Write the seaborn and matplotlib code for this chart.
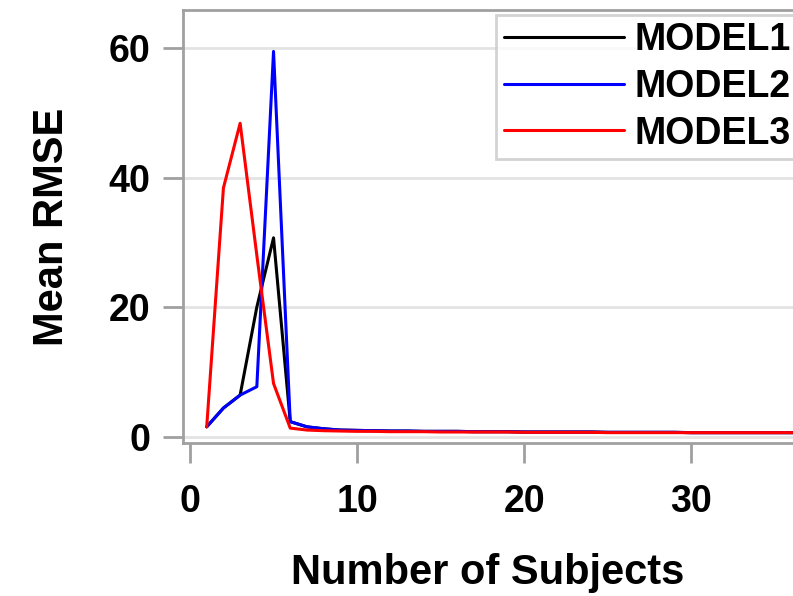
import pandas as pd
import seaborn as sns
import matplotlib.pyplot as plt

# values
subjects = list(range(1, 38))
model1 = [1.5, 4.4, 6.4, 20.0, 30.7, 2.3, 1.5, 1.2, 1.0, 0.95, 0.9, 0.85, 0.85, 0.8, 0.8,
          0.8, 0.75, 0.75, 0.75, 0.7, 0.7, 0.7, 0.7, 0.7, 0.65, 0.65, 0.65, 0.65, 0.65,
          0.6, 0.6, 0.6, 0.6, 0.6, 0.6, 0.6, 0.6]
model2 = [1.5, 4.4, 6.4, 7.7, 59.5, 2.3, 1.5, 1.2, 1.0, 0.95, 0.9, 0.85, 0.85, 0.8, 0.8,
          0.8, 0.75, 0.75, 0.75, 0.7, 0.7, 0.7, 0.7, 0.7, 0.65, 0.65, 0.65, 0.65, 0.65,
          0.6, 0.6, 0.6, 0.6, 0.6, 0.6, 0.6, 0.6]
model3 = [1.5, 38.4, 48.4, 28.0, 8.2, 1.3, 1.0, 0.9, 0.85, 0.8, 0.8, 0.75, 0.75, 0.75, 0.7,
          0.7, 0.7, 0.7, 0.7, 0.65, 0.65, 0.65, 0.65, 0.65, 0.6, 0.6, 0.6, 0.6, 0.6,
          0.6, 0.6, 0.6, 0.6, 0.6, 0.6, 0.6, 0.6]
model_names = ['MODEL1', 'MODEL2', 'MODEL3']
y_ticks = [0, 20, 40, 60]
x_ticks = [0, 10, 20, 30]

# long format for seaborn
df = pd.DataFrame({
    'Subjects': subjects * 3,
    'RMSE': model1 + model2 + model3,
    'Model': [m for m in model_names for _ in subjects],
})

sns.set_style('white')
plt.rcParams['font.family'] = ['Liberation Sans', 'DejaVu Sans']
plt.rcParams['font.weight'] = 'bold'
plt.rcParams['text.color'] = 'black'
plt.rcParams['axes.labelcolor'] = 'black'

grey = '#a0a0a0'
fig = plt.figure(figsize=(7.93, 5.96), dpi=100)
ax = fig.add_axes([183 / 793, 1 - 443 / 596, 1 - 183 / 793, 433 / 596])

sns.lineplot(data=df, x='Subjects', y='RMSE', hue='Model',
             palette={'MODEL1': 'black', 'MODEL2': 'blue', 'MODEL3': 'red'},
             linewidth=2.2, ax=ax)

ax.set_xlim(-0.42, 36.1)
ax.set_ylim(-1, 65.9)
ax.set_xticks(x_ticks)
ax.set_yticks(y_ticks)
ax.yaxis.grid(True, color='#e3e3e3', linewidth=2)
ax.set_axisbelow(True)

for side in ['left', 'bottom', 'top']:
    ax.spines[side].set_color(grey)
    ax.spines[side].set_linewidth(2)
ax.spines['right'].set_visible(False)

ax.tick_params(axis='both', which='major', direction='out', length=14.5, width=2,
               color=grey, labelsize=27, labelcolor='black')
ax.tick_params(axis='y', pad=9, left=True)
ax.tick_params(axis='x', pad=15, bottom=True)
for lbl in ax.get_xticklabels() + ax.get_yticklabels():
    lbl.set_fontweight('bold')

ax.set_xlabel('Number of Subjects', fontsize=30, fontweight='bold', labelpad=24,
              color='black')
ax.set_ylabel('Mean RMSE', fontsize=30, fontweight='bold', labelpad=26, color='black')

leg = ax.legend(loc='upper left', bbox_to_anchor=(496 / 793, 1 - 15 / 596),
                bbox_transform=fig.transFigure, fontsize=27, handlelength=3.2,
                handletextpad=0.3, labelspacing=0.28, borderpad=0.2,
                frameon=True, fancybox=False, borderaxespad=0)
leg.get_frame().set_edgecolor('#c8c8c8')
leg.get_frame().set_linewidth(2)
for t in leg.get_texts():
    t.set_fontweight('bold')
    t.set_color('black')

fig.savefig('out.png', dpi=100)
